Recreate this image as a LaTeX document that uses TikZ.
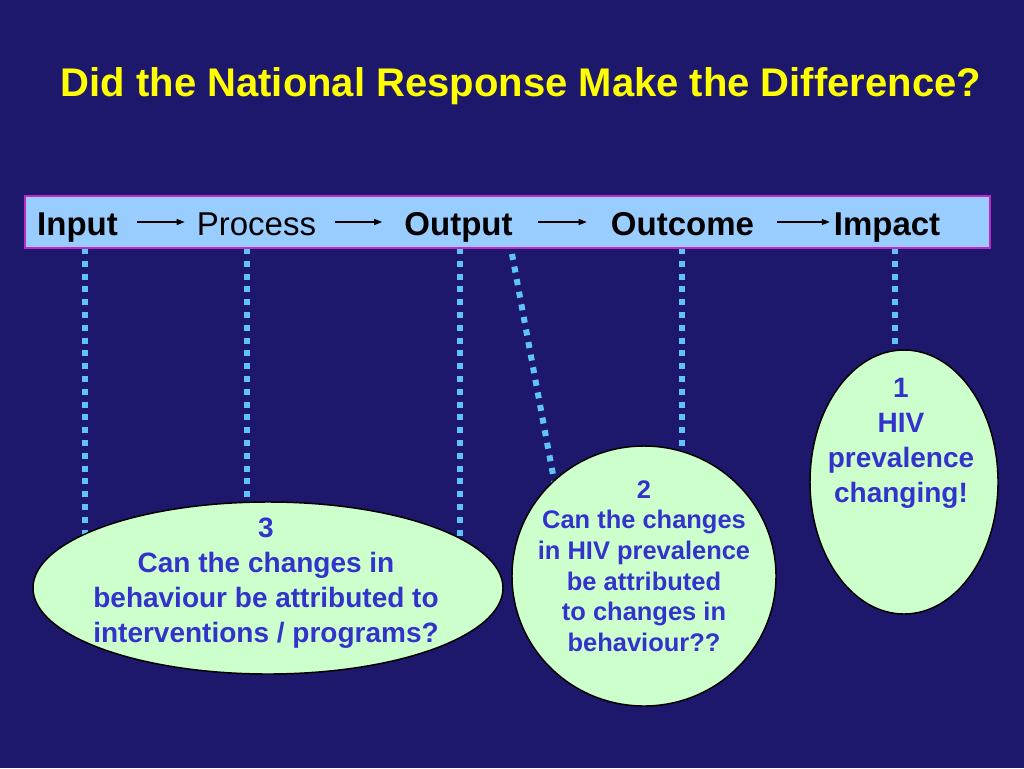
\documentclass[tikz,border=0pt]{standalone}
\usepackage{fontspec}
\setmainfont{Liberation Sans}
\usetikzlibrary{shapes.geometric,arrows.meta}
\definecolor{bgnavy}{RGB}{30,24,108}
\definecolor{titleyellow}{RGB}{255,255,0}
\definecolor{barblue}{RGB}{153,204,255}
\definecolor{barborder}{RGB}{190,40,200}
\definecolor{dotblue}{RGB}{95,195,250}
\definecolor{ovalgreen}{RGB}{204,255,204}
\definecolor{qblue}{RGB}{51,51,204}
\begin{document}
\begin{tikzpicture}[x=0.75pt,y=-0.75pt,
  titletext/.style={text=titleyellow,font=\fontsize{30}{36}\selectfont\bfseries,anchor=base,inner sep=0pt},
  stagebold/.style={font=\fontsize{24.75}{30}\selectfont\bfseries,anchor=base,inner sep=0pt,text height=19.5pt,text depth=0pt},
  stageplain/.style={font=\fontsize{24.75}{30}\selectfont,anchor=base,inner sep=0pt,text height=19.5pt,text depth=0pt},
  barbox/.style={draw=barborder,line width=1.1pt,fill=barblue,minimum width=723.75pt,minimum height=39pt,inner sep=0pt},
  flow/.style={-{Triangle[length=6pt,width=4.5pt]},line width=0.8pt,black},
  dotline/.style={draw=dotblue,line width=4.5pt,dash pattern=on 4.5pt off 5.1pt},
  oval/.style={ellipse,draw=black,line width=1.1pt,fill=ovalgreen,inner sep=0pt},
  qbig/.style={text=qblue,font=\fontsize{21}{26.2}\selectfont\bfseries,align=center,inner sep=0pt},
  qsmall/.style={text=qblue,font=\fontsize{19.1}{23}\selectfont\bfseries,align=center,inner sep=0pt}
]
\fill[bgnavy] (0,0) rectangle (1024,768);
\useasboundingbox (0,0) rectangle (1024,768);

% title
\node[titletext] (title) at (521,96) {Did the National Response Make the Difference?};

% dotted connector start points on the bar bottom
\coordinate (d1) at (85,248);
\coordinate (d2) at (247,248);
\coordinate (d3) at (460,248);
\coordinate (d4) at (682,248);
\coordinate (d5) at (895,248);
\coordinate (d6) at (512,254);
\coordinate (d6e) at (560.5,515);

% ovals (positions)
\coordinate (c3) at (268,588);
\coordinate (c2) at (644,576);
\coordinate (c1) at (904,482);

% dotted lines (drawn beneath the ovals)
\draw[dotline] (d1) -- (d1 |- c3);
\draw[dotline] (d2) -- (d2 |- c3);
\draw[dotline] (d3) -- (d3 |- c3);
\draw[dotline] (d4) -- (d4 |- c2);
\draw[dotline] (d5) -- (d5 |- c1);
\draw[dotline] (d6) -- (d6e);

% bar
\node[barbox] (bar) at (507.5,222) {};
\node[stagebold] (input) at (77.5,235) {Input};
\node[stageplain] (process) at (256.5,235) {Process};
\node[stagebold] (output) at (458.5,235) {Output};
\node[stagebold] (outcome) at (682.5,235) {Outcome};
\node[stagebold] (impact) at (887,235) {Impact};
\draw[flow,shorten <=14.4pt,shorten >=9pt] (input.east) -- (process.west);
\draw[flow,shorten <=14.25pt,shorten >=16.5pt] (process.east) -- (output.west);
\draw[flow,shorten <=19pt,shorten >=18pt] (output.east) -- (outcome.west);
\draw[flow,shorten <=17.25pt,shorten >=2.85pt] (outcome.east) -- (impact.west);

% ovals
\node[oval,minimum width=352.5pt,minimum height=129pt] (e3) at (c3) {};
\node[oval,minimum width=198pt,minimum height=195pt] (e2) at (c2) {};
\node[oval,minimum width=141pt,minimum height=198pt] (e1) at (c1) {};

\node[qbig] (t3) at (266,583) {3\\Can the changes in\\behaviour be attributed to\\ interventions / programs?};
\node[qsmall] (t2) at (644,566) {2\\Can the changes\\in HIV prevalence\\be attributed\\to changes in\\behaviour??};
\node[qbig] (t1) at (901,443) {1\\HIV\\prevalence\\changing!};
\end{tikzpicture}
\end{document}
